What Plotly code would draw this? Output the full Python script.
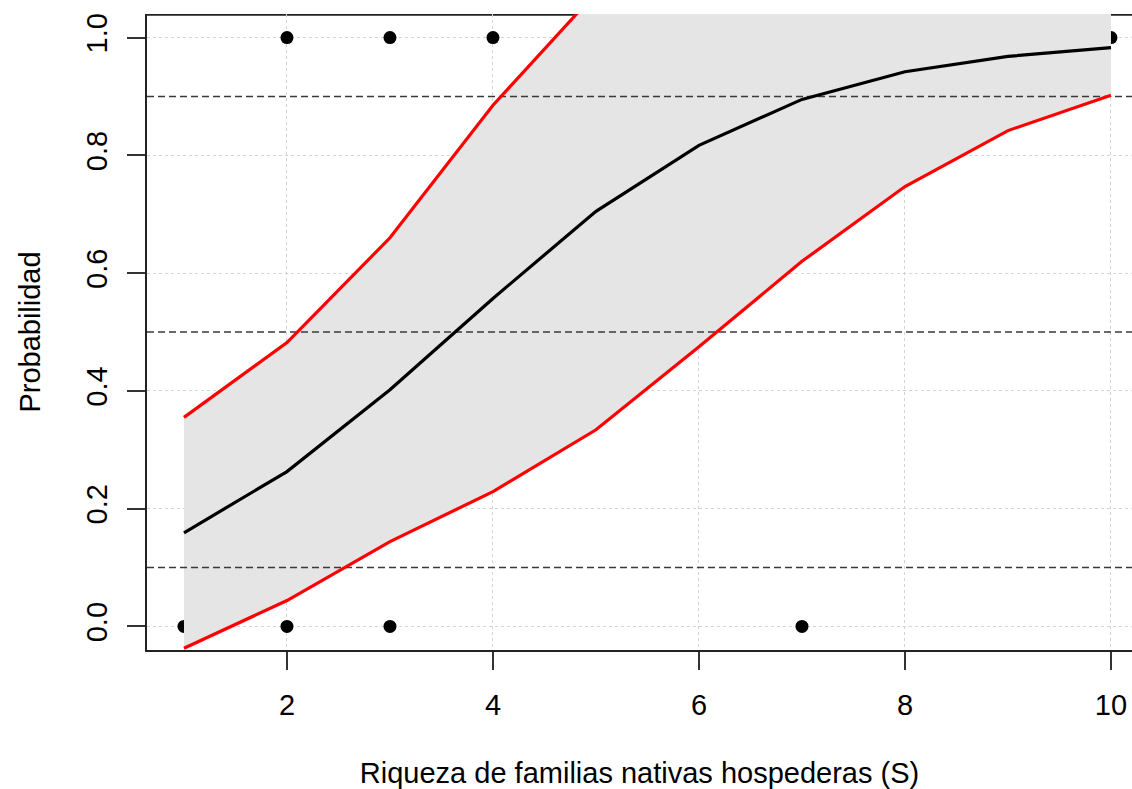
import plotly.graph_objects as go

# Data
riqueza = [1, 2, 3, 4, 5, 6, 7, 8, 9, 10]
prob_ajustada = [0.159, 0.263, 0.402, 0.557, 0.705, 0.817, 0.895, 0.942, 0.968, 0.983]
ic_inferior = [-0.037, 0.044, 0.144, 0.229, 0.334, 0.475, 0.620, 0.747, 0.842, 0.902]
ic_superior = [0.355, 0.482, 0.660, 0.885, 1.076, 1.159, 1.170, 1.137, 1.094, 1.064]

obs_x = [1, 2, 2, 3, 3, 4, 7, 10]
obs_y = [0, 0, 1, 0, 1, 1, 0, 1]

umbrales = [0.1, 0.5, 0.9]

x_ticks = [2, 4, 6, 8, 10]
y_ticks = [0.0, 0.2, 0.4, 0.6, 0.8, 1.0]
y_tick_text = ["0.0", "0.2", "0.4", "0.6", "0.8", "1.0"]

FONT = "Liberation Sans, Arial, sans-serif"
XR = [0.641, 10.204]
YR = [-0.04, 1.04]

fig = go.Figure()

# observed points (drawn first; the band covers them partially)
fig.add_trace(go.Scatter(
    x=obs_x, y=obs_y, mode="markers",
    marker=dict(color="black", size=13, line=dict(width=0)),
    showlegend=False, hoverinfo="skip"))

# confidence band polygon
fig.add_trace(go.Scatter(
    x=riqueza + riqueza[::-1],
    y=ic_superior + ic_inferior[::-1],
    mode="lines", fill="toself", fillcolor="#e5e5e5",
    line=dict(width=0, color="#e5e5e5"),
    showlegend=False, hoverinfo="skip"))

# dashed reference lines
for u in umbrales:
    fig.add_trace(go.Scatter(
        x=XR, y=[u, u], mode="lines",
        line=dict(color="#3a3a3a", width=1.5, dash="7px,4px"),
        showlegend=False, hoverinfo="skip"))

# CI lines
fig.add_trace(go.Scatter(x=riqueza, y=ic_superior, mode="lines",
                         line=dict(color="#ff0000", width=3.2),
                         showlegend=False))
fig.add_trace(go.Scatter(x=riqueza, y=ic_inferior, mode="lines",
                         line=dict(color="#ff0000", width=3.2),
                         showlegend=False))
# fitted curve
fig.add_trace(go.Scatter(x=riqueza, y=prob_ajustada, mode="lines",
                         line=dict(color="black", width=3.2),
                         showlegend=False))

# top box line (below traces so the band covers it)
fig.add_shape(type="line", xref="paper", yref="y", x0=0, x1=1,
              y0=YR[1] - 0.0015, y1=YR[1] - 0.0015,
              line=dict(color="#222222", width=1.6), layer="below")

fig.update_layout(
    width=1132, height=789,
    margin=dict(l=147, r=0, t=14, b=139),
    paper_bgcolor="white", plot_bgcolor="white",
    font=dict(family=FONT, size=29, color="black"),
    xaxis=dict(
        range=XR, tickvals=x_ticks, ticks="outside", ticklen=18,
        tickwidth=1.5, tickcolor="#333333", ticklabelstandoff=10,
        showline=True, linecolor="#222222", linewidth=1.6,
        showgrid=True, gridcolor="#d3d3d3", griddash="dot", gridwidth=1,
        zeroline=False, tickfont=dict(size=29),
        title=dict(text="Riqueza de familias nativas hospederas (S)",
                   font=dict(size=29), standoff=45),
    ),
    yaxis=dict(
        range=YR, tickvals=y_ticks, ticktext=y_tick_text,
        ticks="outside", ticklen=18, tickwidth=1.5, tickcolor="#333333",
        tickangle=-90, ticklabelstandoff=9,
        showline=True, linecolor="#222222", linewidth=1.6,
        showgrid=True, gridcolor="#d3d3d3", griddash="dot", gridwidth=1,
        zeroline=False, tickfont=dict(size=29),
        title=dict(text="Probabilidad", font=dict(size=29), standoff=31),
    ),
)

fig.write_html("out.html")
